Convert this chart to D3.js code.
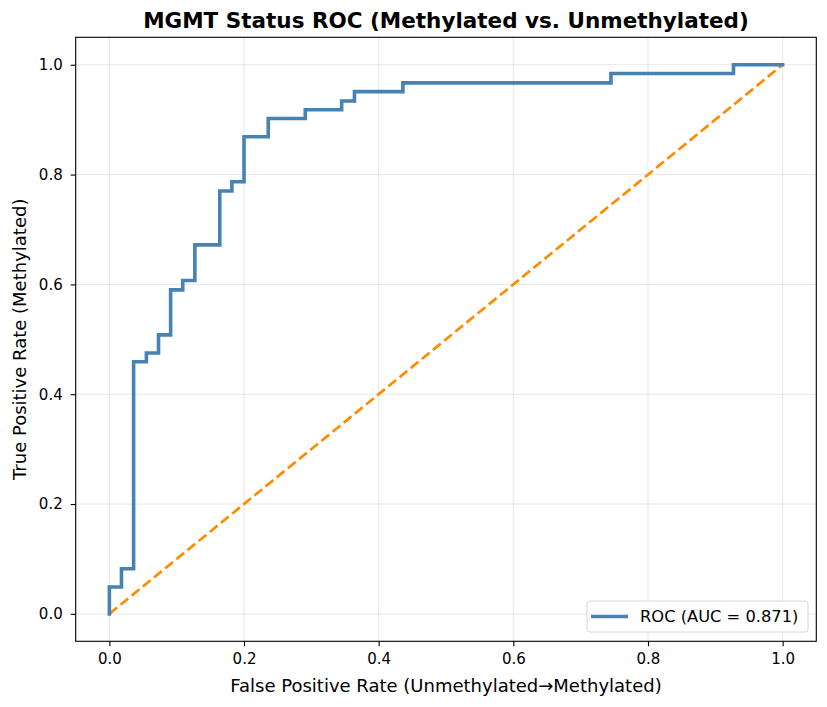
<!DOCTYPE html>
<html>
<head>
<meta charset="utf-8">
<script src="https://cdn.jsdelivr.net/npm/d3@7"></script>
<style>
  body { margin: 0; background: #fff; }
  text { font-family: "DejaVu Sans", sans-serif; }
</style>
</head>
<body>
<div id="chart"></div>
<script>
// ROC corner points
var fpr = [0, 0, 0.018, 0.018, 0.036, 0.036, 0.055, 0.055, 0.073, 0.073, 0.091, 0.091,
  0.109, 0.109, 0.127, 0.127, 0.164, 0.164, 0.182, 0.182, 0.2, 0.2, 0.236, 0.236,
  0.291, 0.291, 0.345, 0.345, 0.364, 0.364, 0.436, 0.436, 0.745, 0.745, 0.927, 0.927, 1];
var tpr = [0, 0.049, 0.049, 0.082, 0.082, 0.459, 0.459, 0.475, 0.475, 0.508, 0.508, 0.590,
  0.590, 0.607, 0.607, 0.672, 0.672, 0.770, 0.770, 0.787, 0.787, 0.869, 0.869, 0.902,
  0.902, 0.918, 0.918, 0.934, 0.934, 0.951, 0.951, 0.967, 0.967, 0.984, 0.984, 1, 1];
var chance = [[0, 0], [1, 1]];
var ticks = [0, 0.2, 0.4, 0.6, 0.8, 1.0];
var aucLabel = "ROC (AUC = 0.871)";

var W = 827, H = 707;
var pLeft = 75.7, pRight = 816.3, pTop = 37.3, pBottom = 641.3;

var svg = d3.select("#chart").append("svg")
  .attr("width", W).attr("height", H);

var x = d3.scaleLinear().domain([-0.05, 1.05]).range([pLeft, pRight]);
var y = d3.scaleLinear().domain([-0.05, 1.05]).range([pBottom, pTop]);

// grid
svg.append("g").selectAll("line").data(ticks).enter().append("line")
  .attr("x1", function (d) { return x(d); }).attr("x2", function (d) { return x(d); })
  .attr("y1", pTop).attr("y2", pBottom)
  .attr("stroke", "#b0b0b0").attr("stroke-opacity", 0.3).attr("stroke-width", 1);
svg.append("g").selectAll("line").data(ticks).enter().append("line")
  .attr("y1", function (d) { return y(d); }).attr("y2", function (d) { return y(d); })
  .attr("x1", pLeft).attr("x2", pRight)
  .attr("stroke", "#b0b0b0").attr("stroke-opacity", 0.3).attr("stroke-width", 1);

// axes
var xAxis = svg.append("g").attr("transform", "translate(0," + pBottom + ")")
  .call(d3.axisBottom(x).tickValues(ticks).tickFormat(d3.format(".1f")).tickSize(5).tickPadding(7));
var yAxis = svg.append("g").attr("transform", "translate(" + pLeft + ",0)")
  .call(d3.axisLeft(y).tickValues(ticks).tickFormat(d3.format(".1f")).tickSize(5).tickPadding(8));
[xAxis, yAxis].forEach(function (a) {
  a.select(".domain").remove();
  a.selectAll("text").style("font-size", "15px").attr("fill", "#000")
    .style("font-family", "DejaVu Sans, sans-serif");
  a.selectAll("line").attr("stroke", "#000").attr("stroke-width", 1.1);
});

// lines
var line = d3.line()
  .x(function (d) { return x(d[0]); })
  .y(function (d) { return y(d[1]); });

svg.append("path").datum(chance)
  .attr("d", line).attr("fill", "none")
  .attr("stroke", "#ff8c00").attr("stroke-width", 2.7)
  .attr("stroke-dasharray", "10,4.4");

svg.append("path").datum(fpr.map(function (f, i) { return [f, tpr[i]]; }))
  .attr("d", line).attr("fill", "none")
  .attr("stroke", "#4682b4").attr("stroke-width", 3.6)
  .attr("stroke-linejoin", "miter").attr("stroke-linecap", "square");

// frame
svg.append("rect").attr("x", pLeft).attr("y", pTop)
  .attr("width", pRight - pLeft).attr("height", pBottom - pTop)
  .attr("fill", "none").attr("stroke", "#000").attr("stroke-width", 1.1);

// title and labels
svg.append("text").attr("x", (pLeft + pRight) / 2).attr("y", 28)
  .attr("text-anchor", "middle").style("font-size", "21.5px").style("font-weight", "bold")
  .text("MGMT Status ROC (Methylated vs. Unmethylated)");
svg.append("text").attr("x", (pLeft + pRight) / 2).attr("y", 692)
  .attr("text-anchor", "middle").style("font-size", "18px")
  .text("False Positive Rate (Unmethylated\u2192Methylated)");
svg.append("text")
  .attr("transform", "translate(26," + ((pTop + pBottom) / 2) + ") rotate(-90)")
  .attr("text-anchor", "middle").style("font-size", "18px")
  .text("True Positive Rate (Methylated)");

// legend
var lg = svg.append("g");
lg.append("rect").attr("x", 587).attr("y", 601).attr("width", 221).attr("height", 31)
  .attr("rx", 3).attr("fill", "#fff").attr("fill-opacity", 0.8)
  .attr("stroke", "#d6d6d6").attr("stroke-width", 1);
lg.append("line").attr("x1", 591).attr("x2", 628).attr("y1", 616.5).attr("y2", 616.5)
  .attr("stroke", "#4682b4").attr("stroke-width", 3.6);
lg.append("text").attr("x", 640).attr("y", 622).style("font-size", "16.3px")
  .text(aucLabel);
</script>
</body>
</html>
